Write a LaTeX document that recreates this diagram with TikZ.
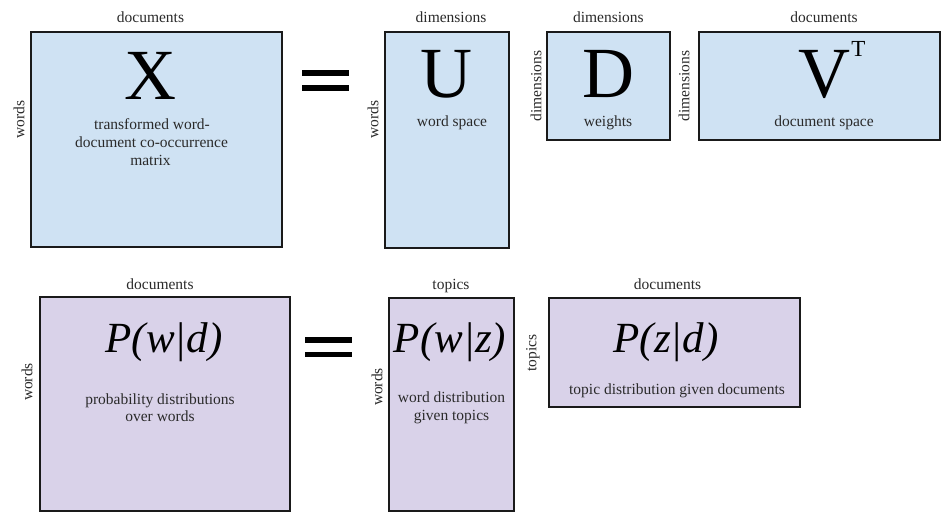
\documentclass[tikz,border=0pt]{standalone}
\usepackage{fontspec}
\setmainfont{Liberation Serif}
\definecolor{boxblue}{HTML}{CFE2F3}
\definecolor{boxpurple}{HTML}{D9D2E9}
\definecolor{txtgray}{HTML}{2A2A2A}
\definecolor{edge}{HTML}{1A1A1A}
\tikzset{
  box/.style={draw=edge, line width=1.8pt, inner sep=0pt, outer sep=0pt},
  bluebox/.style={box, fill=boxblue},
  purplebox/.style={box, fill=boxpurple},
  lbl/.style={font=\fontsize{15.5}{18}\selectfont, text=txtgray, inner sep=0pt, anchor=base},
  sidelbl/.style={font=\fontsize{15.5}{18}\selectfont, text=txtgray, inner sep=0pt, anchor=center, rotate=90},
  bigletter/.style={font=\fontsize{72}{72}\selectfont, text=black, inner sep=0pt, anchor=base},
  supletter/.style={font=\fontsize{23}{23}\selectfont, text=black, inner sep=0pt, anchor=base},
  probtext/.style={font=\fontsize{43}{43}\selectfont\itshape, text=black, inner sep=0pt, anchor=base},
  eqbar/.style={fill=black}
}
\begin{document}
\begin{tikzpicture}[x=1pt,y=-1pt]
\useasboundingbox (0,0) rectangle (942,513);
\fill[white] (0,0) rectangle (942,513);

% ---------- top row ----------
\node[bluebox, minimum width=251pt, minimum height=215pt] (Xbox) at (156.5,139.5) {};
\node[bluebox, minimum width=124pt, minimum height=216pt] (Ubox) at (447,140) {};
\node[bluebox, minimum width=123pt, minimum height=108pt] (Dbox) at (608.5,86) {};
\node[bluebox, minimum width=241pt, minimum height=108pt] (Vbox) at (819.5,86) {};

\node[lbl] (Xtop) at (150.5,22.5) {documents};
\node[lbl] (Utop) at (451,22.5) {dimensions};
\node[lbl] (Dtop) at (608.3,22.5) {dimensions};
\node[lbl] (Vtop) at (824,22.5) {documents};

\node[sidelbl] (Xside) at (19,119.5) {words};
\node[sidelbl] (Uside) at (373,119.5) {words};
\node[sidelbl] (Dside) at (536,86) {dimensions};
\node[sidelbl] (Vside) at (684,86) {dimensions};

\node[bigletter] (Xlet) at (150.5,100) {X};
\node[bigletter] (Ulet) at (446,98) {U};
\node[bigletter] (Dlet) at (608,98) {D};
\node[bigletter] (Vlet) at (824,98) {V};
\node[supletter] (Tlet) at (858.5,57) {T};

\node[lbl] (Xd1) at (152,130) {transformed word-};
\node[lbl] (Xd2) at (151.5,148) {document co-occurrence};
\node[lbl] (Xd3) at (150.5,165.5) {matrix};
\node[lbl] (Ud) at (452,126.5) {word space};
\node[lbl] (Dd) at (608,126.5) {weights};
\node[lbl] (Vd) at (824,126.5) {document space};

\fill[eqbar] (301.7,70) rectangle (349.3,76);
\fill[eqbar] (301.7,85) rectangle (349.3,90.7);

% ---------- bottom row ----------
\node[purplebox, minimum width=250pt, minimum height=214pt] (PWDbox) at (165,404) {};
\node[purplebox, minimum width=125pt, minimum height=213pt] (PWZbox) at (451.5,404.5) {};
\node[purplebox, minimum width=251pt, minimum height=109pt] (PZDbox) at (674.5,352.5) {};

\node[lbl] (PWDtop) at (160,289) {documents};
\node[lbl] (PWZtop) at (451,289) {topics};
\node[lbl] (PZDtop) at (667.5,289) {documents};

\node[sidelbl] (PWDside) at (27,382) {words};
\node[sidelbl] (PWZside) at (377,387) {words};
\node[sidelbl] (PZDside) at (533,353) {topics};

\node[probtext] (PWDlet) at (164,352) {P(w|d)};
\node[probtext] (PWZlet) at (450,352) {P(w|z)};
\node[probtext] (PZDlet) at (666,352) {P(z|d)};

\node[lbl] (PWDd1) at (160,404) {probability distributions};
\node[lbl] (PWDd2) at (160,421) {over words};
\node[lbl] (PWZd1) at (451.5,402.5) {word distribution};
\node[lbl] (PWZd2) at (451.5,420) {given topics};
\node[lbl] (PZDd) at (677,394) {topic distribution given documents};

\fill[eqbar] (305,337.3) rectangle (351.7,343.3);
\fill[eqbar] (305,351.7) rectangle (351.7,357.3);
\end{tikzpicture}
\end{document}
